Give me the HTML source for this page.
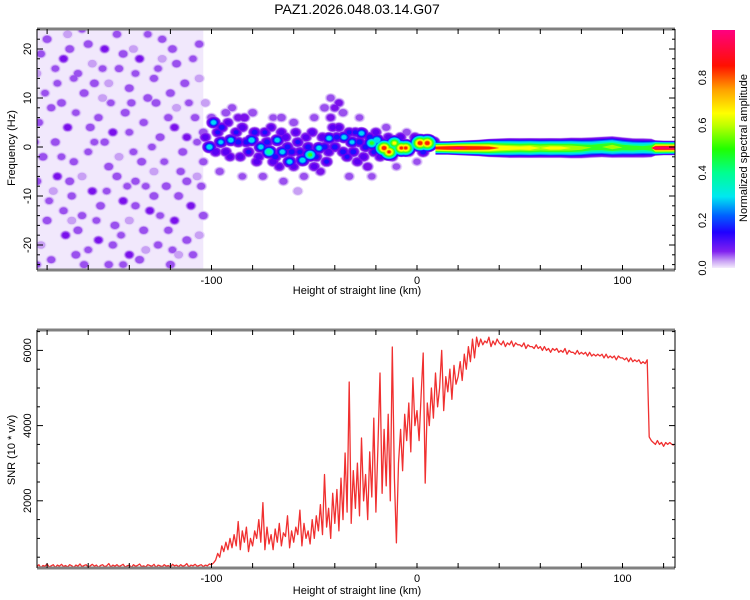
<!DOCTYPE html>
<html><head><meta charset="utf-8"><style>
html,body{margin:0;padding:0;background:#fff;}
svg{display:block;font-family:"Liberation Sans",sans-serif;}
</style></head><body>
<svg id="chart" width="750" height="600" viewBox="0 0 750 600" xmlns="http://www.w3.org/2000/svg">
<defs>
<clipPath id="clipTop"><rect x="37" y="29" width="638" height="241"/></clipPath>
<clipPath id="clipBot"><rect x="37" y="330" width="638" height="238"/></clipPath>
<linearGradient id="cbar" x1="0" y1="1" x2="0" y2="0">
<stop offset="0" stop-color="#f4ecfc"/><stop offset="0.03" stop-color="#c8a0f4"/><stop offset="0.07" stop-color="#8020f0"/>
<stop offset="0.15" stop-color="#2000ff"/><stop offset="0.22" stop-color="#0060ff"/><stop offset="0.3" stop-color="#00e8f0"/>
<stop offset="0.4" stop-color="#00ff90"/><stop offset="0.5" stop-color="#20ff00"/><stop offset="0.6" stop-color="#c0ff00"/>
<stop offset="0.65" stop-color="#ffff00"/><stop offset="0.75" stop-color="#ffa000"/><stop offset="0.85" stop-color="#ff1000"/>
<stop offset="1" stop-color="#ff0080"/></linearGradient>
</defs>
<text x="357" y="14" font-size="14" text-anchor="middle">PAZ1.2026.048.03.14.G07</text>
<g id="topPlot"></g>
<g id="botPlot"></g>
<g id="colorbar">
<rect x="712" y="30" width="23" height="238" fill="url(#cbar)"/>
</g>
<text transform="translate(747,148) rotate(-90)" font-size="11" text-anchor="middle">Normalized spectral amplitude</text>
<text transform="translate(15,148) rotate(-90)" font-size="11" text-anchor="middle">Frequency (Hz)</text>
<text x="357" y="294" font-size="11" text-anchor="middle">Height of straight line (km)</text>
<text transform="translate(15,450) rotate(-90)" font-size="11" text-anchor="middle">SNR (10 * v/v)</text>
<text x="357" y="594" font-size="11" text-anchor="middle">Height of straight line (km)</text>
</svg>
<script>
// ---- data ----
const xTickLabels=[-100,0,100];
const freqTickLabels=[20,10,0,-10,-20];
const snrTickLabels=[2000,4000,6000];
const cbarTickLabels=[0.0,0.2,0.4,0.6,0.8];
const noiseBlobs=[[-180,22,0.08],[-172,18,0.09],[-165,15,0.07],[-160,21,0.08],[-152,20,0.09],[-145,16,0.07],[-140,12,0.08],[-135,18,0.09],[-128,14,0.07],[-120,11,0.08],[-112,2,0.09],[-113,13,0.08],[-178,8,0.07],[-170,4,0.09],[-162,11,0.08],[-155,6,0.07],[-148,3,0.09],[-142,7,0.08],[-133,5,0.07],[-125,2,0.08],[-118,4,0.09],[-108,6,0.07],[-182,-2,0.08],[-175,-6,0.09],[-167,-3,0.07],[-158,-9,0.09],[-150,-4,0.08],[-143,-11,0.09],[-137,-7,0.07],[-130,-13,0.09],[-122,-8,0.08],[-115,-5,0.07],[-110,-12,0.09],[-180,-15,0.08],[-171,-18,0.09],[-163,-14,0.07],[-155,-19,0.09],[-147,-16,0.08],[-140,-22,0.09],[-133,-17,0.08],[-126,-20,0.07],[-118,-15,0.09],[-112,-19,0.08],[-178,-23,0.07],[-166,-22,0.08],[-150,-24,0.07],[-120,-24,0.08],[-175,13,0.06],[-157,1,0.06],[-138,-1,0.06],[-127,9,0.08],[-105,-8,0.07],[-109,18,0.06],[-146,23,0.07],[-131,23,0.06],[-168,-10,0.07],[-184,5,0.07],[-160,-1,0.06],[-123,-3,0.06],[-104,3,0.08],[-177,-9,0.05],[-163,-6,0.05],[-153,10,0.05],[-138,20,0.05],[-124,18,0.05],[-116,-22,0.05],[-145,-2,0.05],[-132,-21,0.05],[-170,23,0.05],[-185,15,0.05],[-183,-20,0.05],[-106,-18,0.05],[-106,14,0.05],[-150,13,0.05],[-140,-15,0.05],[-128,-5,0.05],[-117,8,0.05],[-168,-15,0.05],[-158,17,0.05]];
const noiseBlobs2=[[-183,19,.07],[-176,16,.06],[-169,20,.08],[-163,24,.06],[-157,13,.08],[-149,9,.06],[-143,19,.08],[-137,15,.06],[-131,10,.08],[-124,22,.07],[-117,17,.08],[-111,9,.06],[-106,21,.07],[-181,11,.06],[-173,9,.08],[-166,7,.06],[-159,4,.08],[-152,1,.07],[-146,-6,.08],[-140,3,.06],[-134,-3,.08],[-129,0,.06],[-121,6,.07],[-114,-1,.08],[-107,1,.06],[-185,-7,.08],[-179,-11,.06],[-172,-13,.07],[-165,-17,.08],[-160,-21,.06],[-154,-12,.08],[-148,-20,.07],[-141,-8,.06],[-135,-23,.08],[-128,-10,.08],[-121,-17,.07],[-116,-10,.08],[-109,-22,.07],[-104,-14,.08],[-185,-24,.06],[-173,-2,.06],[-156,-15,.06],[-144,-18,.06],[-132,-8,.06],[-119,-21,.06],[-112,-7,.08],[-104,-3,.07],[-167,14,.06],[-153,16,.06],[-139,9,.07],[-126,16,.06],[-119,20,.08],[-176,1,.08],[-186,1,.06],[-162,-24,.07],[-143,-24,.06],[-125,-14,.06],[-137,-12,.07],[-169,-7,.08],[-151,-9,.06]];
const signalBlobs=[[-101,0,0.32],[-99,5,0.3],[-95.5,1,0.28],[-90.6,1.4,0.3],[-80.5,1.4,0.32],[-76,0,0.3],[-72,-1,0.42],[-68,1.4,0.3],[-65.5,-1,0.3],[-62,-3,0.3],[-55.7,-2.7,0.32],[-52,-1.6,0.45],[-47.7,-0.2,0.3],[-42.8,1.8,0.3],[-35.5,2,0.3],[-31.6,1,0.28],[-27,2.8,0.3],[-22,0.8,0.45],[-19.5,1.4,0.35],[-16,-0.2,0.85],[-13.6,-1,0.8],[-11,0.8,0.62],[-7.6,-0.2,0.8],[-5.5,-0.2,0.8],[1.5,0.8,0.85],[5,0.8,0.85],
[-103,2,0.15],[-97,3,0.18],[-93,-1,0.16],[-92,5,0.14],[-88,3,0.18],[-86,-2,0.15],[-84,6,0.12],[-83,1,0.2],[-78,-3,0.15],[-74,3,0.18],[-70,-3,0.16],[-66,3,0.15],[-63,0,0.2],[-60,-4,0.14],[-58,1,0.18],[-54,2,0.15],[-50,-4,0.15],[-46,2,0.16],[-44,-3,0.18],[-40,0,0.2],[-38,4,0.15],[-38,9,0.1],[-34,-2,0.18],[-30,3,0.18],[-29,-3,0.15],[-25,0,0.2],[-24,-4,0.12],[-20,3,0.15],[-18,-2,0.15],[-14,2,0.14],[-9,1,0.18],[-3,0,0.2],[-1,2,0.15],[3,-1,0.2],[8,1,0.25],
[-100,6,0.08],[-96,-5,0.07],[-90,8,0.07],[-85,-6,0.06],[-80,7,0.08],[-75,-6,0.07],[-70,6,0.06],[-65,-7,0.07],[-60,5,0.08],[-55,-6,0.07],[-50,6,0.07],[-45,8,0.08],[-42,10,0.07],[-36,7,0.08],[-33,-6,0.07],[-28,6,0.06],[-22,-6,0.06],[-15,4,0.07],[-10,-4,0.06],[-5,3,0.07],[0,-3,0.06],[-107,-6,0.05],[-103,9,0.05],[-58,-9,0.05]];
const signalBlobs2=[[-98,-1,.16],[-95,4,.2],[-91,-2,.14],[-87,1,.2],[-85,4,.16],[-82,-1,.18],[-79,3,.2],[-77,-2,.15],[-73,1,.2],[-71,4,.14],[-69,-2,.2],[-67,-4,.14],[-64,2,.16],[-61,-1,.2],[-59,3,.14],[-57,-1,.18],[-53,0,.2],[-51,3,.15],[-49,-2,.18],[-45,0,.2],[-43,-1,.16],[-41,4,.14],[-39,2,.2],[-36,-1,.2],[-33,3,.18],[-31,-1,.2],[-28,1,.2],[-26,-2,.16],[-23,2,.2],[-21,-1,.18],[-17,1,.2],[-12,-2,.14],[-8,2,.16],[-4,-1,.15],[-42,6,.1],[-40,8,.1],[-87,6,.1],[-93,7,.08],[-47,-5,.1],[-66,6,.08]];
const ridgeKm=[9,15,20,25,30,35,40,45,50,55,60,65,70,75,80,85,90,95,100,105,110,114,116,120,127];
const ridgeF=[-0.2,-0.2,-0.2,-0.2,-0.2,-0.2,-0.2,-0.2,-0.2,-0.2,-0.2,-0.2,-0.2,-0.2,-0.2,-0.1,0,0,-0.1,-0.2,-0.2,-0.2,-0.2,-0.2,-0.2];
const ridgeAmp=[0.8,0.88,0.9,0.88,0.85,0.8,0.7,0.65,0.62,0.65,0.6,0.63,0.62,0.6,0.55,0.5,0.52,0.58,0.5,0.48,0.45,0.5,0.9,0.92,0.9];
const ridgeW=[1.3,1.3,1.4,1.5,1.6,1.8,1.9,2,2,2,2,2,2,2.1,2.1,2.1,2.1,2.2,2.1,2,2,1.9,1.5,1.4,1.4];
const snrStartKm=-185;
const snrVal=[250,300,220,280,260,320,240,270,300,230,290,260,310,250,280,240,300,270,230,290,
260,320,250,280,300,240,270,310,260,290,230,280,300,250,270,330,240,290,260,300,
250,280,310,240,270,290,230,300,260,280,320,250,270,240,300,280,260,310,230,290,
270,250,300,260,280,240,310,270,290,250,300,260,280,330,240,290,270,310,260,280,
300,250,290,270,320,
300,350,420,600,500,800,650,900,700,1000,
750,1100,800,1450,700,1200,900,1300,650,1000,
800,1200,1000,1500,900,1950,700,1300,850,1100,
700,1250,900,1400,800,1150,1050,1600,750,1200,
900,1300,1100,1750,800,1400,1000,1200,850,1500,
1000,1600,1200,1900,1100,2700,1300,1800,1000,2200,
1400,2300,1200,2600,1500,3270,1700,5160,1400,2800,
1800,3000,1600,3670,2000,2700,1500,3300,2100,4200,
1700,3500,5400,2200,3900,2400,4300,2000,6090,2600,
880,3000,3900,2800,4300,3600,4600,3300,5270,4000,
4400,3600,4800,5930,2470,4600,4000,5000,4200,5400,
4500,5000,6000,4400,5300,4900,5500,4700,5600,5100,
5300,5700,5200,5900,5500,6100,5700,6300,5800,6350,
6100,6300,6150,6250,6200,6350,6100,6250,6150,6300,
6200,6150,6250,6100,6200,6150,6250,6100,6200,6150,
6150,6100,6200,6050,6150,6100,6100,6050,6150,6050,
6100,6000,6100,6000,6050,5950,6050,6000,6050,5950,
6000,5950,6050,5900,6000,5950,5950,5900,6000,5900,
5950,5900,5950,5850,5950,5850,5900,5850,5900,5850,
5900,5800,5900,5800,5850,5800,5850,5750,5850,5800,
5800,5750,5800,5700,5800,5700,5750,5700,5750,5650,
5700,5650,5750,
3700,3600,3550,3500,3600,3500,3550,3450,3550,3500,3550,3500,3480];

// ---- scales ----
const NS='http://www.w3.org/2000/svg';
const xS=km=>417+km*2.055;
const fS=f=>147-f*4.9;
const sS=v=>576-v*0.0376;
const levels=[[0.02,'#e8d8fb'],[0.04,'#c8a0f4'],[0.06,'#9a50ee'],[0.085,'#7a10ec'],[0.13,'#5a00f4'],[0.18,'#1a10ff'],[0.23,'#0070ff'],[0.28,'#00d8f4'],[0.36,'#00ffa8'],[0.44,'#30ff20'],[0.54,'#a0ff00'],[0.62,'#ffff00'],[0.72,'#ffa000'],[0.8,'#ff2000'],[0.9,'#ff0060']];
function mk(tag,attrs,parent){const e=document.createElementNS(NS,tag);for(const k in attrs)e.setAttribute(k,attrs[k]);parent.appendChild(e);return e;}

// ---- top panel ----
const topG=document.getElementById('topPlot');
const tg=mk('g',{'clip-path':'url(#clipTop)'},topG);
const base=mk('rect',{x:xS(-186),y:29,width:xS(-104)-xS(-186),height:241,fill:'#f1e8fc'},tg);


const blobs=noiseBlobs.concat(noiseBlobs2,signalBlobs,signalBlobs2);
levels.forEach(([L,col])=>{
  const lg=mk('g',{fill:col},tg);
  
  
  blobs.forEach(([k,f,a])=>{
    if(a<L)return;
    const R=(5.5+6*a)*(1-L/(a+0.05))+1;
    const el=mk('ellipse',{cx:xS(k),cy:fS(f),rx:R,ry:R*0.85},lg);
    
    
  });
  const upper=[],lower=[];let any=false;
  ridgeKm.forEach((k,i)=>{
    const a=ridgeAmp[i];
    let hw=a>=L?ridgeW[i]*(1-L/(a+0.05))+0.15:0;
    if(a>=L)any=true;
    upper.push(xS(k)+','+fS(ridgeF[i]+hw));
    lower.unshift(xS(k)+','+fS(ridgeF[i]-hw));
  });
  if(any){
    const p=mk('polygon',{points:upper.concat(lower).join(' ')},lg);
    
    
  }
});

// axes helper
function frame(g,y0,y1){
  mk('line',{x1:37,y1:y0,x2:675,y2:y0,stroke:'#808080','stroke-width':3},g);
  mk('line',{x1:37,y1:y1,x2:675,y2:y1,stroke:'#808080','stroke-width':3},g);
  mk('line',{x1:37,y1:y0,x2:37,y2:y1,stroke:'#000','stroke-width':1},g);
  mk('line',{x1:675,y1:y0,x2:675,y2:y1,stroke:'#000','stroke-width':1},g);
  for(let k=-180;k<=120;k+=20){
    const X=xS(k);
    mk('line',{x1:X,y1:y0,x2:X,y2:y0+5,stroke:'#000'},g);
    mk('line',{x1:X,y1:y1,x2:X,y2:y1-5,stroke:'#000'},g);
  }
  xTickLabels.forEach(v=>{
    const t=mk('text',{x:xS(v),y:y1+14,'font-size':11,'text-anchor':'middle'},g);
    t.textContent=v;
    
    
  });
}
const ta=mk('g',{},topG);


frame(ta,29,270);
for(let f=-24;f<=24;f+=2){
  const Y=fS(f),len=f%10===0?6:3;
  mk('line',{x1:37,y1:Y,x2:37+len,y2:Y,stroke:'#000'},ta);
  mk('line',{x1:675,y1:Y,x2:675-len,y2:Y,stroke:'#000'},ta);
}
freqTickLabels.forEach(v=>{
  const t=mk('text',{transform:`translate(31,${fS(v)}) rotate(-90)`,'font-size':11,'text-anchor':'middle'},ta);
  t.textContent=v;
  
  
});

// ---- bottom panel ----
const botG=document.getElementById('botPlot');
const bg=mk('g',{'clip-path':'url(#clipBot)'},botG);
const pts=snrVal.map((v,i)=>xS(snrStartKm+i).toFixed(1)+','+sS(v).toFixed(1)).join(' ');
const line=mk('polyline',{points:pts,fill:'none',stroke:'#f03030','stroke-width':1.3,'stroke-linejoin':'round'},bg);


const ba=mk('g',{},botG);


frame(ba,330,568);
for(let v=500;v<=6500;v+=500){
  const Y=sS(v),len=v%2000===0?6:3;
  mk('line',{x1:37,y1:Y,x2:37+len,y2:Y,stroke:'#000'},ba);
  mk('line',{x1:675,y1:Y,x2:675-len,y2:Y,stroke:'#000'},ba);
}
snrTickLabels.forEach(v=>{
  const t=mk('text',{transform:`translate(31,${sS(v)}) rotate(-90)`,'font-size':11,'text-anchor':'middle'},ba);
  t.textContent=v;
  
  
});

// ---- colorbar ticks ----
const cb=document.getElementById('colorbar');
const cS=v=>268-v*238;
cbarTickLabels.forEach(v=>{
  const t=mk('text',{transform:`translate(706,${cS(v)}) rotate(-90)`,'font-size':11,'text-anchor':'middle'},cb);
  t.textContent=v.toFixed(1);
  
  
});
</script>
</body></html>
